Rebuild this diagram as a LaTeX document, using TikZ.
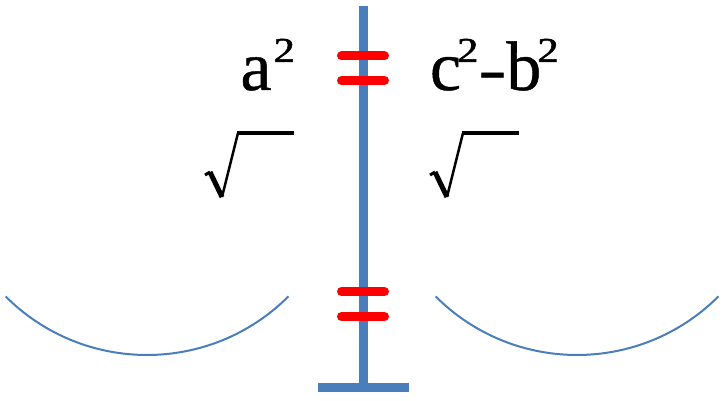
\documentclass[tikz,border=0pt]{standalone}
\usepackage{fontspec}
\setmainfont{Liberation Serif}
\newfontfamily\termfont[FakeBold=0.6]{Liberation Serif}
\newfontfamily\supfont[FakeBold=1.4]{Liberation Serif}
\definecolor{axisblue}{HTML}{4A7EBB}
\definecolor{barred}{HTML}{FF0000}
\newcommand{\bigtxt}{\termfont\fontsize{70}{70}\selectfont}
\newcommand{\suptwo}{{\supfont\fontsize{35}{35}\selectfont\raisebox{28pt}{\scalebox{1.22}[1]{2}}}}
\newcommand{\dashmark}{\scalebox{1.2}[0.9]{-}}
\begin{document}
\begin{tikzpicture}[x=1pt,y=1pt,
  beam/.style={draw=axisblue,line width=8.5pt},
  neq/.style={draw=barred,line width=9pt,line cap=round},
  bowl/.style={draw=axisblue,line width=2pt},
  rad/.style={draw=black,line join=miter},
  term/.style={inner sep=0pt,outer sep=0pt,anchor=base west,font=\bigtxt}]
\useasboundingbox (0,0) rectangle (724,400);
% axis
\coordinate (top) at (363.5,394);
\coordinate (foot) at (363.5,12.5);
\coordinate (baseL) at (318,12.5);
\coordinate (baseR) at (409,12.5);
\draw[beam] (top) -- (foot);
\draw[beam] (baseL) -- (baseR);
% red equals signs
\coordinate (e1a) at (341.5,344); \coordinate (e1b) at (384.5,344);
\coordinate (e2a) at (341.5,319.5); \coordinate (e2b) at (384.5,319.5);
\coordinate (e3a) at (341.5,108.5); \coordinate (e3b) at (384.5,108.5);
\coordinate (e4a) at (341.5,83.5); \coordinate (e4b) at (384.5,83.5);
\draw[neq] (e1a) -- (e1b);
\draw[neq] (e2a) -- (e2b);
\draw[neq] (e3a) -- (e3b);
\draw[neq] (e4a) -- (e4b);
% terms
\node[term] (lhs) at (240.5,310) {a\hspace{2pt}\suptwo};
\node[term] (rhs) at (430,310) {c\hspace{-4pt}\suptwo\dashmark b\hspace{-4pt}\suptwo};
% radicals
\foreach \dx/\nm in {0/radL,225/radR}{
  \begin{scope}[xshift=\dx pt]
    \coordinate (\nm-h) at (205,225);
    \coordinate (\nm-k) at (210,228);
    \coordinate (\nm-v) at (222,203);
    \coordinate (\nm-t) at (238,267);
    \coordinate (\nm-e) at (293.5,267);
    \draw[rad,line width=3pt] (\nm-h) -- (\nm-k);
    \draw[rad,line width=5pt] (\nm-k) -- (\nm-v);
    \draw[rad,line width=2.5pt] (\nm-v) -- (\nm-t);
    \draw[rad,line width=3.2pt] ([xshift=-1pt]\nm-t) -- (\nm-e);
  \end{scope}
}
% bowls
\coordinate (bowlL) at (5.6,103.6);
\coordinate (bowlR) at (435.6,103.6);
\draw[bowl] (bowlL) arc[start angle=225,end angle=315,radius=200];
\draw[bowl] (bowlR) arc[start angle=225,end angle=315,radius=200];
\end{tikzpicture}
\end{document}
